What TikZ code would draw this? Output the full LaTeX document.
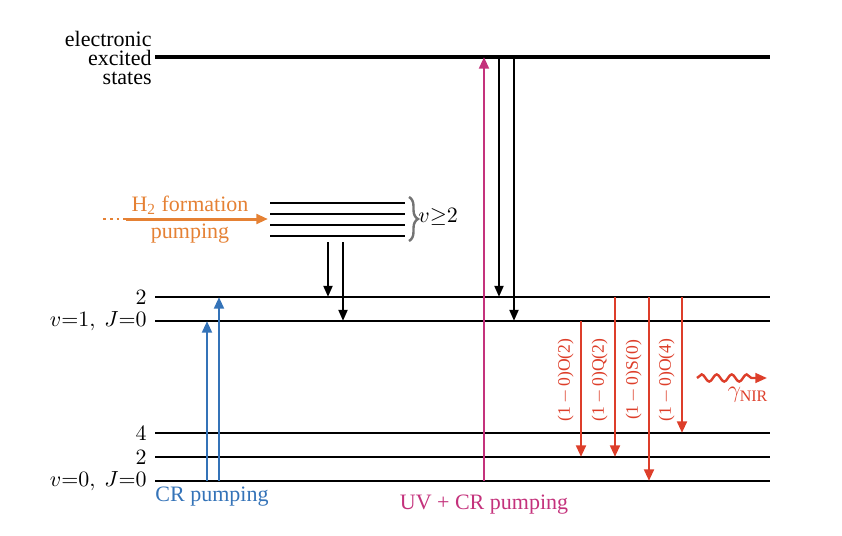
\documentclass[tikz,border=0pt]{standalone}
\usepackage{fontspec}
\setmainfont{Liberation Serif}
\usetikzlibrary{arrows.meta,decorations.pathreplacing,decorations.pathmorphing}

\definecolor{formorange}{RGB}{229,129,52}
\definecolor{crblue}{RGB}{52,115,184}
\definecolor{uvmagenta}{RGB}{196,50,124}
\definecolor{nirred}{RGB}{221,62,42}

\begin{document}
\begin{tikzpicture}[x=0.5pt,y=-0.5pt,
	every node/.style={font=\fontsize{11}{9.5}\selectfont},
	level/.style={line width=1pt},
	lvlab/.style={anchor=east, inner sep=1pt, font=\fontsize{10.5}{12}\selectfont},
	tipbig/.style={-{Triangle[width=4.8pt,length=5.8pt]}},
	tipsmall/.style={-{Triangle[width=4.4pt,length=5.6pt]}},
	trans/.style={font=\fontsize{8.8}{10}\selectfont, rotate=90, anchor=south, inner sep=2pt}]
	\useasboundingbox (0,0) rectangle (842,536);
	% electronic excited states
	\coordinate (ex) at (155,57);
	\draw[line width=2.2pt] (ex) -- (770,57);
	\node[anchor=east, align=right, inner sep=0pt] (exlab) at (152,58) {electronic\\excited\\states};
	% vibrational-rotational levels
	\coordinate (v1J2) at (155,297);
	\coordinate (v1J0) at (155,321);
	\coordinate (v0J4) at (155,433);
	\coordinate (v0J2) at (155,457);
	\coordinate (v0J0) at (155,481);
	\foreach \lv in {v1J2,v1J0,v0J4,v0J2,v0J0}
		\draw[level] (\lv) -- ++(615,0);
	\node[lvlab] (lab1) at (149,297) {$2$};
	\node[lvlab] (lab2) at (149,321) {$v{=}1,\ J{=}0$};
	\node[lvlab] (lab3) at (149,433) {$4$};
	\node[lvlab] (lab4) at (149,457) {$2$};
	\node[lvlab] (lab5) at (149,481) {$v{=}0,\ J{=}0$};
	% levels v >= 2
	\foreach \y in {203,214,225,236}
		\draw[line width=0.9pt] (270,\y) -- (405,\y);
	\draw[gray!90!black, line width=1.2pt, decorate, decoration={brace, amplitude=4.5pt}] (409,197) -- (409,241);
	\node[anchor=west, inner sep=0pt] (hivib) at (418,217) {$v{\geq}2$};
	% H2 formation pumping
	\coordinate (form0) at (103,219);
	\coordinate (form1) at (126,219);
	\coordinate (form2) at (268,219);
	\draw[formorange, line width=1.4pt, dotted] (form0) -- (form1);
	\draw[formorange, line width=1.5pt, tipbig] (form1) -- (form2);
	\node[formorange] (formlab) at (190,205) {H\textsubscript{2} formation};
	\node[formorange] (formlab2) at (190,234) {pumping};
	% cascade from v >= 2
	\draw[line width=1.3pt, tipsmall] (328,242) -- (328,0 |- v1J2);
	\draw[line width=1.3pt, tipsmall] (343,242) -- (343,0 |- v1J0);
	% CR pumping
	\draw[crblue, line width=1.4pt, tipbig] (207,0 |- v0J0) -- (207,0 |- v1J0);
	\draw[crblue, line width=1.4pt, tipbig] (219,0 |- v0J0) -- (219,0 |- v1J2);
	\node[crblue] (crlab) at (212,497) {CR pumping};
	% UV + CR pumping
	\draw[uvmagenta, line width=1.4pt, tipbig] (484,0 |- v0J0) -- (484,0 |- ex);
	\node[uvmagenta] (uvlab) at (484,505) {UV + CR pumping};
	% cascade from electronic states
	\draw[line width=1.3pt, tipsmall] (499,0 |- ex) -- (499,0 |- v1J2);
	\draw[line width=1.3pt, tipsmall] (514,0 |- ex) -- (514,0 |- v1J0);
	% NIR lines
	\foreach \x/\a/\b/\name in {581/v1J0/v0J2/O(2), 615/v1J2/v0J2/Q(2), 649/v1J2/v0J0/S(0), 682/v1J2/v0J4/O(4)}{
		\draw[nirred, line width=1.4pt, tipbig] (\x,0 |- \a) -- (\x,0 |- \b);
		\node[nirred, trans] at (\x-3,380) {(1\,$-$\,0)\name};
	}
	\draw[nirred, line width=1.2pt, decorate, decoration={snake, amplitude=1.8pt, segment length=7.5pt, post length=4pt}] (697,378) -- (760,378);
	\draw[nirred, line width=1.2pt, tipbig] (758,378) -- (767,378);
	\node[nirred, font=\fontsize{12}{12}\selectfont] (gamma) at (748,395) {$\gamma_{\mathrm{NIR}}$};
\end{tikzpicture}
\end{document}
